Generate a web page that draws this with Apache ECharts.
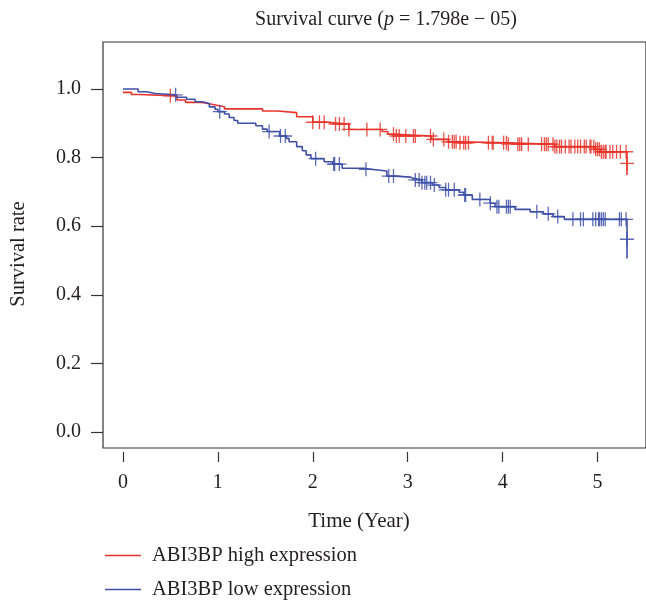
<!DOCTYPE html>
<html><head><meta charset="utf-8">
<script src="https://cdn.jsdelivr.net/npm/echarts@6/dist/echarts.min.js"></script>
<style>html,body{margin:0;padding:0;background:#fff}#c{width:646px;height:610px}</style>
</head><body><div id="c"></div>
<script>
// ---- data ----
const xTicks = [0, 1, 2, 3, 4, 5];
const yTicks = [0, 0.2, 0.4, 0.6, 0.8, 1.0];

const highTimes = [0, 0.09, 0.17, 0.57, 0.66, 0.83, 0.91, 1.00, 1.07, 1.47, 1.63, 1.83, 2.00, 2.14, 2.38, 2.73, 2.79, 2.87, 3.25, 3.43, 3.55, 4.06, 4.55, 4.97, 5.03, 5.31];
const highSurv  = [0.990, 0.984, 0.980, 0.968, 0.961, 0.957, 0.952, 0.948, 0.942, 0.936, 0.931, 0.919, 0.903, 0.898, 0.882, 0.876, 0.868, 0.863, 0.853, 0.846, 0.843, 0.839, 0.832, 0.824, 0.817, 0.749];
const highCensor = [0.50, 2.00, 2.07, 2.12, 2.24, 2.28, 2.33, 2.38, 2.57, 2.71, 2.85, 2.88, 2.91, 2.98, 3.06, 3.08, 3.24, 3.27, 3.38, 3.43, 3.47, 3.49, 3.51, 3.55, 3.59, 3.61, 3.64, 3.85, 3.89, 3.90, 4.01, 4.04, 4.06, 4.16, 4.18, 4.20, 4.27, 4.41, 4.44, 4.46, 4.48, 4.53, 4.55, 4.57, 4.60, 4.62, 4.66, 4.70, 4.72, 4.76, 4.79, 4.82, 4.86, 4.88, 4.92, 4.93, 4.96, 4.98, 5.00, 5.02, 5.04, 5.06, 5.08, 5.09, 5.13, 5.16, 5.20, 5.24, 5.30];
const highLastMark = [5.31, 0.783];

const lowTimes = [0, 0.16, 0.25, 0.34, 0.56, 0.67, 0.76, 0.84, 0.91, 0.97, 1.00, 1.07, 1.12, 1.17, 1.21, 1.40, 1.47, 1.52, 1.65, 1.72, 1.75, 1.83, 1.89, 1.93, 1.98, 2.12, 2.21, 2.31, 2.54, 2.61, 2.78, 2.87, 3.03, 3.06, 3.15, 3.26, 3.33, 3.40, 3.54, 3.59, 3.68, 3.87, 3.92, 4.13, 4.29, 4.43, 4.53, 4.65, 5.31];
const lowSurv  = [1.000, 0.992, 0.987, 0.983, 0.976, 0.970, 0.963, 0.958, 0.948, 0.941, 0.934, 0.927, 0.917, 0.908, 0.900, 0.893, 0.883, 0.876, 0.863, 0.856, 0.846, 0.832, 0.820, 0.808, 0.797, 0.788, 0.781, 0.769, 0.766, 0.761, 0.746, 0.743, 0.740, 0.735, 0.727, 0.720, 0.713, 0.706, 0.699, 0.691, 0.678, 0.667, 0.657, 0.649, 0.642, 0.636, 0.628, 0.620, 0.506];
const lowCensor = [0.555, 1.02, 1.54, 1.66, 1.71, 2.03, 2.22, 2.23, 2.28, 2.56, 2.80, 2.85, 3.08, 3.12, 3.15, 3.18, 3.20, 3.24, 3.28, 3.40, 3.43, 3.49, 3.60, 3.61, 3.76, 3.87, 3.94, 3.96, 4.04, 4.06, 4.08, 4.36, 4.48, 4.58, 4.74, 4.82, 4.85, 4.95, 4.98, 5.01, 5.02, 5.04, 5.06, 5.08, 5.23, 5.25, 5.30];
const lowLastMark = [5.31, 0.562];

const seriesNames = ['ABI3BP high expression', 'ABI3BP low expression'];
const colors = ['#e8342c', '#4050a8'];

// ---- helpers ----
function survAt(times, surv, t) {
  let s = surv[0];
  for (let i = 0; i < times.length; i++) { if (times[i] <= t) s = surv[i]; else break; }
  return s;
}
const pairs = (ts, ss) => ts.map((t, i) => [t, ss[i]]);
const marks = (cs, ts, ss, last) => cs.map(c => [c, survAt(ts, ss, c)]).concat([last]);
const plusSym = 'path://M0,10L20,10M10,0L10,20';
const txt = '#231f20';
const font = 'Liberation Serif';

const chart = echarts.init(document.getElementById('c'), null, {renderer: 'canvas'});
chart.setOption({
  animation: false,
  backgroundColor: '#fff',
  grid: {left: 103, top: 42, right: -3, bottom: 162, show: true, borderColor: '#333', borderWidth: 1.2, backgroundColor: 'transparent'},
  xAxis: {
    type: 'value', min: -0.21, max: 5.51, offset: 4,
    splitLine: {show: false}, axisLine: {show: false, onZero: false},
    axisTick: {show: true, length: 10, inside: false, customValues: xTicks, lineStyle: {color: '#333', width: 1.2}},
    axisLabel: {customValues: xTicks, margin: 21, color: txt, fontFamily: font, fontSize: 20}
  },
  yAxis: {
    type: 'value', min: -0.0466, max: 1.137,
    splitLine: {show: false}, axisLine: {show: false, onZero: false},
    axisTick: {show: true, length: 12, customValues: yTicks, lineStyle: {color: '#333', width: 1.2}},
    axisLabel: {customValues: yTicks, margin: 22, color: txt, fontFamily: font, fontSize: 20, formatter: v => v.toFixed(1)}
  },
  legend: {
    data: seriesNames, orient: 'vertical', left: 100, top: 540, icon: 'rect',
    itemWidth: 36, itemHeight: 1.5, itemGap: 13,
    textStyle: {color: txt, fontFamily: font, fontSize: 20.5, padding: [0, 0, 0, 6]}
  },
  graphic: [
    {type: 'text', x: 386, y: 20, style: {
      text: '{a|Survival curve (}{i|p}{a| = 1.798e − 05)}', align: 'center', verticalAlign: 'middle',
      rich: {a: {fontFamily: font, fontSize: 20, fill: txt}, i: {fontFamily: font, fontSize: 20, fontStyle: 'italic', fill: txt}}
    }},
    {type: 'text', x: 359, y: 521, style: {text: 'Time (Year)', align: 'center', verticalAlign: 'middle', fontFamily: font, fontSize: 21, fill: txt}},
    {type: 'text', x: 18.5, y: 254, rotation: Math.PI / 2, style: {text: 'Survival rate', align: 'center', verticalAlign: 'middle', fontFamily: font, fontSize: 20.5, fill: txt}}
  ],
  series: [
    {name: seriesNames[0], type: 'line', step: 'end', symbol: 'none', data: pairs(highTimes, highSurv), color: colors[0], lineStyle: {width: 1.6, color: colors[0]}, z: 3},
    {name: seriesNames[1], type: 'line', step: 'end', symbol: 'none', data: pairs(lowTimes, lowSurv), color: colors[1], lineStyle: {width: 1.6, color: colors[1]}, z: 3},
    {name: 'highMarks', type: 'scatter', symbol: plusSym, symbolSize: 14, data: marks(highCensor, highTimes, highSurv, highLastMark),
      itemStyle: {color: 'rgba(0,0,0,0)', borderColor: colors[0], borderWidth: 1.3, opacity: 0.85}, z: 4},
    {name: 'lowMarks', type: 'scatter', symbol: plusSym, symbolSize: 14, data: marks(lowCensor, lowTimes, lowSurv, lowLastMark),
      itemStyle: {color: 'rgba(0,0,0,0)', borderColor: colors[1], borderWidth: 1.3, opacity: 0.85}, z: 4}
  ]
});
</script></body></html>
